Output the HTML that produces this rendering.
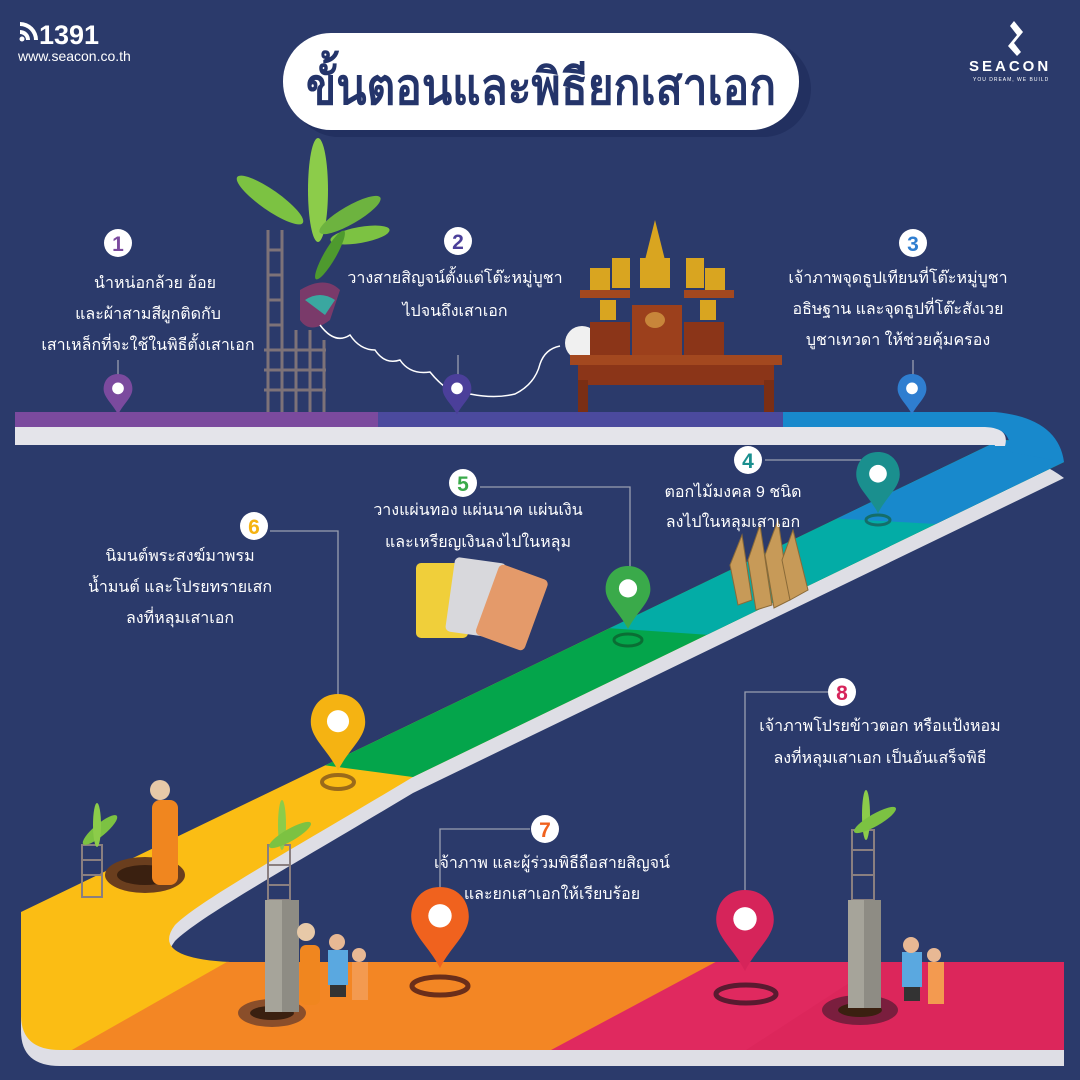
<!DOCTYPE html>
<html><head><meta charset="utf-8"><style>
html,body{margin:0;padding:0;background:#2b3a6b;}
svg{display:block}
text{font-family:"Liberation Sans","DejaVu Sans","Noto Sans CJK SC",sans-serif;}
.t{fill:#fff;font-size:16px;text-anchor:middle}
.n{font-size:21px;font-weight:bold;text-anchor:middle}
</style></head><body>
<svg width="1080" height="1080" viewBox="0 0 1080 1080" xmlns="http://www.w3.org/2000/svg">
<defs>
<path id="pin" d="M0,0 C-20,0 -32,15 -32,33 C-32,52 -12,66 0,90 C12,66 32,52 32,33 C32,15 20,0 0,0Z"/>
<clipPath id="road"><path d="M1064,462 L413,777 C300,845 200,900 175,925 Q150,958 230,962 H1064 V1050 H60 Q21,1050 21,1015 V912 L1000,440 Q1035,440 1064,462Z"/></clipPath>
</defs>
<rect width="1080" height="1080" fill="#2b3a6b"/>

<!-- header -->
<g fill="#fff">
<path d="M20,22 a18,18 0 0 1 18,18 h-4 a14,14 0 0 0 -14,-14z M20,30 a10,10 0 0 1 10,10 h-4 a6,6 0 0 0 -6,-6z"/>
<circle cx="22" cy="39" r="2.5"/>
<text x="39" y="44" font-size="27" font-weight="bold">1391</text>
<text x="18" y="61" font-size="14">www.seacon.co.th</text>
<path d="M1008,46 l9,-11 -7,-9 4,-5 9,11 -9,11 7,9 -4,4z"/>
<text x="969" y="71" font-size="15" font-weight="bold" letter-spacing="3">SEACON</text>
<text x="973" y="81" font-size="5" letter-spacing="1">YOU DREAM, WE BUILD</text>
</g>

<!-- title -->
<rect x="291" y="41" width="520" height="96" rx="48" fill="#223060"/>
<rect x="283" y="33" width="516" height="97" rx="48" fill="#fff"/>
<text x="541" y="104" font-size="50" font-weight="bold" fill="#24346a" text-anchor="middle" textLength="470" lengthAdjust="spacingAndGlyphs">ขั้นตอนและพิธียกเสาเอก</text>

<!-- diagonal + bottom road side -->
<g transform="translate(0,16)"><path d="M1064,462 L413,777 C300,845 200,900 175,925 Q150,958 230,962 H1064 V1050 H60 Q21,1050 21,1015 V912 L1000,440 Q1035,440 1064,462Z" fill="#dedee5"/></g>
<g clip-path="url(#road)">
<rect width="1080" height="1080" fill="#fbbd14"/>
<polygon points="0,0 1080,0 1080,866 0,722" fill="#04a54b"/>
<polygon points="0,0 1080,0 1080,660 0,587" fill="#03aca6"/>
<polygon points="0,0 1080,0 1080,532 0,472" fill="#1889cc"/>
<polygon points="248,950 1080,950 1080,1080 19,1080" fill="#f38624"/>
<polygon points="738,950 1080,950 1080,1080 495,1080" fill="#e0295f"/>
<polygon points="900,950 1080,950 1080,1080 700,1080" fill="#d82457" opacity="0.5"/>
</g>

<!-- top road -->
<rect x="15" y="426" width="985" height="19" fill="#e4e4ea"/>
<path d="M985,426 Q1010,428 1005,446 L995,446 L990,426Z" fill="#e4e4ea"/>
<rect x="15" y="412" width="365" height="15" fill="#7b4a9e"/>
<rect x="378" y="412" width="406" height="15" fill="#4b4a9e"/>
<path d="M783,412 H995 Q1058,418 1064,462 L1010,452 Q1012,428 985,427 H783Z" fill="#1889cc"/>

<!-- banana tree + trellis top -->
<g stroke="#7d7278" stroke-width="3" fill="none">
<line x1="268" y1="230" x2="268" y2="412"/><line x1="282" y1="230" x2="282" y2="412"/><line x1="296" y1="330" x2="296" y2="412"/><line x1="310" y1="330" x2="310" y2="412"/><line x1="324" y1="340" x2="324" y2="412"/>
<line x1="268" y1="250" x2="282" y2="250"/><line x1="268" y1="275" x2="282" y2="275"/><line x1="268" y1="300" x2="282" y2="300"/><line x1="268" y1="325" x2="282" y2="325"/>
<line x1="264" y1="350" x2="326" y2="350"/><line x1="264" y1="370" x2="326" y2="370"/><line x1="264" y1="390" x2="326" y2="390"/>
</g>
<g fill="#7cc242">
<ellipse cx="318" cy="190" rx="10" ry="52" fill="#8ccc4a"/>
<ellipse cx="270" cy="200" rx="40" ry="10" transform="rotate(35 270 200)"/>
<ellipse cx="350" cy="215" rx="35" ry="9" transform="rotate(-30 350 215)" fill="#6db33f"/>
<ellipse cx="360" cy="235" rx="30" ry="8" transform="rotate(-10 360 235)"/>
<ellipse cx="330" cy="255" rx="28" ry="6" transform="rotate(-60 330 255)" fill="#4e9a2e"/>
</g>
<path d="M300,290 Q325,275 340,290 L330,320 Q310,335 300,320Z" fill="#7a3a6a"/>
<path d="M305,300 Q320,290 335,300 L325,315Z" fill="#3aa7a0"/>
<path d="M320,325 q15,20 30,10 q10,15 25,15 q10,15 25,10 q10,15 30,12 q20,25 40,22 q25,5 45,0 q20,-10 25,-30 q5,-15 20,-18" stroke="#fff" stroke-width="1.5" fill="none"/>
<circle cx="582" cy="343" r="17" fill="#f0f0f0"/>

<!-- altar -->
<g>
<rect x="570" y="355" width="212" height="10" fill="#a3481f"/>
<rect x="578" y="365" width="196" height="20" fill="#8b3518"/>
<rect x="578" y="380" width="10" height="32" fill="#7a2e14"/><rect x="764" y="380" width="10" height="32" fill="#7a2e14"/>
<rect x="590" y="322" width="40" height="33" fill="#8b3518"/><rect x="632" y="305" width="50" height="50" fill="#9c401c"/><rect x="684" y="322" width="40" height="33" fill="#8b3518"/>
<rect x="580" y="290" width="50" height="8" fill="#a3481f"/><rect x="684" y="290" width="50" height="8" fill="#a3481f"/>
<polygon points="655,220 645,260 665,260" fill="#d9a520"/>
<rect x="640" y="258" width="30" height="30" fill="#d9a520"/>
<rect x="590" y="268" width="20" height="22" fill="#d9a520"/><rect x="612" y="258" width="18" height="30" fill="#d9a520"/>
<rect x="686" y="258" width="18" height="30" fill="#d9a520"/><rect x="705" y="268" width="20" height="22" fill="#d9a520"/>
<rect x="600" y="300" width="16" height="20" fill="#d9a520"/><rect x="700" y="300" width="16" height="20" fill="#d9a520"/>
<ellipse cx="655" cy="320" rx="10" ry="8" fill="#c8853a"/>
</g>

<!-- cards -->
<rect x="416" y="563" width="52" height="75" rx="5" fill="#f0cf3a"/>
<rect x="450" y="560" width="52" height="75" rx="5" fill="#d8d8dc" transform="rotate(8 476 597)"/>
<rect x="486" y="570" width="52" height="75" rx="5" fill="#e49a6a" transform="rotate(20 512 607)"/>
<!-- stakes -->
<g fill="#c79a58" stroke="#8a6a38" stroke-width="1">
<polygon points="730,565 742,535 752,600 738,605"/><polygon points="748,560 760,525 772,605 756,610"/>
<polygon points="765,555 778,520 790,600 774,608"/><polygon points="782,560 793,530 808,590 790,600"/>
</g>

<!-- lower decorations -->
<ellipse cx="145" cy="875" rx="40" ry="18" fill="#6a3e1e"/>
<ellipse cx="145" cy="875" rx="28" ry="10" fill="#3a2010"/>
<g stroke="#8a7f80" stroke-width="2" fill="none"><rect x="82" y="845" width="20" height="52"/><line x1="82" y1="860" x2="102" y2="860"/><line x1="82" y1="875" x2="102" y2="875"/></g>
<ellipse cx="100" cy="830" rx="22" ry="6" fill="#7cc242" transform="rotate(-40 100 830)"/>
<ellipse cx="97" cy="825" rx="4" ry="22" fill="#8ccc4a"/>
<rect x="152" y="800" width="26" height="85" rx="8" fill="#f0861f"/>
<circle cx="160" cy="790" r="10" fill="#e7c9a8"/>
<ellipse cx="272" cy="1013" rx="34" ry="14" fill="#8a4e2a"/>
<ellipse cx="272" cy="1013" rx="22" ry="7" fill="#3a2010"/>
<g stroke="#8a7f80" stroke-width="2" fill="none"><rect x="268" y="845" width="22" height="55"/><line x1="268" y1="865" x2="290" y2="865"/><line x1="268" y1="885" x2="290" y2="885"/></g>
<ellipse cx="282" cy="825" rx="4" ry="25" fill="#8ccc4a"/><ellipse cx="290" cy="835" rx="24" ry="6" fill="#7cc242" transform="rotate(-30 290 835)"/>
<rect x="265" y="900" width="34" height="112" fill="#a6a49a"/><rect x="282" y="900" width="17" height="112" fill="#8e8c84"/>
<rect x="300" y="945" width="20" height="60" rx="6" fill="#f0861f"/><circle cx="306" cy="932" r="9" fill="#e7c9a8"/>
<rect x="328" y="950" width="20" height="35" fill="#5aa8e0"/><rect x="330" y="985" width="16" height="12" fill="#333"/><circle cx="337" cy="942" r="8" fill="#e8b894"/>
<rect x="352" y="962" width="16" height="38" fill="#f39a50"/><circle cx="359" cy="955" r="7" fill="#e8b894"/>
<ellipse cx="860" cy="1010" rx="38" ry="15" fill="#7a1e3e"/>
<ellipse cx="860" cy="1010" rx="22" ry="7" fill="#3a2010"/>
<g stroke="#8a7f80" stroke-width="2" fill="none"><rect x="852" y="830" width="22" height="70"/><line x1="852" y1="850" x2="874" y2="850"/><line x1="852" y1="875" x2="874" y2="875"/></g>
<ellipse cx="866" cy="815" rx="4" ry="25" fill="#8ccc4a"/><ellipse cx="875" cy="820" rx="24" ry="6" fill="#7cc242" transform="rotate(-30 875 820)"/>
<rect x="848" y="900" width="33" height="108" fill="#a6a49a"/><rect x="864" y="900" width="17" height="108" fill="#8e8c84"/>
<rect x="902" y="952" width="20" height="35" fill="#5aa8e0"/><rect x="904" y="987" width="16" height="14" fill="#333"/><circle cx="911" cy="945" r="8" fill="#e8b894"/>
<rect x="928" y="962" width="16" height="42" fill="#f39a50"/><circle cx="934" cy="955" r="7" fill="#e8b894"/>

<!-- leader lines -->
<g stroke="#9a9fb0" stroke-width="1.3" fill="none">
<line x1="118" y1="360" x2="118" y2="375"/><line x1="458" y1="355" x2="458" y2="375"/><line x1="913" y1="360" x2="913" y2="375"/>
<polyline points="765,460 862,460 862,470"/>
<polyline points="480,487 630,487 630,570"/>
<polyline points="270,531 338,531 338,697"/>
<polyline points="530,829 440,829 440,890"/>
<polyline points="828,692 745,692 745,892"/>
</g>

<!-- pins -->
<g transform="translate(118,374) scale(0.45)"><use href="#pin" fill="#7b4a9e"/><circle cy="32" r="13" fill="#fff"/></g>
<g transform="translate(457,374) scale(0.45)"><use href="#pin" fill="#4b3f9a"/><circle cy="32" r="13" fill="#fff"/></g>
<g transform="translate(912,374) scale(0.45)"><use href="#pin" fill="#2f7ed0"/><circle cy="32" r="13" fill="#fff"/></g>
<ellipse cx="878" cy="520" rx="12" ry="5" fill="none" stroke="#146e6a" stroke-width="3"/>
<g transform="translate(878,452) scale(0.68)"><use href="#pin" fill="#1a8f8e"/><circle cy="32" r="13" fill="#fff"/></g>
<ellipse cx="628" cy="640" rx="14" ry="6" fill="none" stroke="#0a6e34" stroke-width="3"/>
<g transform="translate(628,566) scale(0.7)"><use href="#pin" fill="#3aaa4a"/><circle cy="32" r="13" fill="#fff"/></g>
<ellipse cx="338" cy="782" rx="16" ry="7" fill="none" stroke="#9a6a1a" stroke-width="4"/>
<g transform="translate(338,694) scale(0.85)"><use href="#pin" fill="#f5b312"/><circle cy="32" r="13" fill="#fff"/></g>
<ellipse cx="440" cy="986" rx="28" ry="9" fill="none" stroke="#6a2e1a" stroke-width="5"/>
<g transform="translate(440,887) scale(0.9)"><use href="#pin" fill="#f0621e"/><circle cy="32" r="13" fill="#fff"/></g>
<ellipse cx="746" cy="994" rx="30" ry="9" fill="none" stroke="#5a1a30" stroke-width="5"/>
<g transform="translate(745,890) scale(0.9)"><use href="#pin" fill="#d6245a"/><circle cy="32" r="13" fill="#fff"/></g>

<!-- number badges -->
<g fill="#fff">
<circle cx="118" cy="243" r="14"/><circle cx="458" cy="241" r="14"/><circle cx="913" cy="243" r="14"/>
<circle cx="748" cy="460" r="14"/><circle cx="463" cy="483" r="14"/><circle cx="254" cy="526" r="14"/>
<circle cx="545" cy="829" r="14"/><circle cx="842" cy="692" r="14"/>
</g>
<text class="n" x="118" y="251" fill="#7b4a9e">1</text>
<text class="n" x="458" y="249" fill="#4b3f9a">2</text>
<text class="n" x="913" y="251" fill="#2f7ed0">3</text>
<text class="n" x="748" y="468" fill="#1a8f8e">4</text>
<text class="n" x="463" y="491" fill="#3aaa4a">5</text>
<text class="n" x="254" y="534" fill="#f5b312">6</text>
<text class="n" x="545" y="837" fill="#f0621e">7</text>
<text class="n" x="842" y="700" fill="#d6245a">8</text>

<!-- labels -->
<text class="t" x="155" y="288">นำหน่อกล้วย อ้อย</text>
<text class="t" x="148" y="319">และผ้าสามสีผูกติดกับ</text>
<text class="t" x="148" y="350">เสาเหล็กที่จะใช้ในพิธีตั้งเสาเอก</text>
<text class="t" x="455" y="283">วางสายสิญจน์ตั้งแต่โต๊ะหมู่บูชา</text>
<text class="t" x="455" y="316">ไปจนถึงเสาเอก</text>
<text class="t" x="898" y="283">เจ้าภาพจุดธูปเทียนที่โต๊ะหมู่บูชา</text>
<text class="t" x="898" y="314">อธิษฐาน และจุดธูปที่โต๊ะสังเวย</text>
<text class="t" x="898" y="345">บูชาเทวดา ให้ช่วยคุ้มครอง</text>
<text class="t" x="733" y="497">ตอกไม้มงคล 9 ชนิด</text>
<text class="t" x="733" y="527">ลงไปในหลุมเสาเอก</text>
<text class="t" x="478" y="515">วางแผ่นทอง แผ่นนาค แผ่นเงิน</text>
<text class="t" x="478" y="547">และเหรียญเงินลงไปในหลุม</text>
<text class="t" x="180" y="561">นิมนต์พระสงฆ์มาพรม</text>
<text class="t" x="180" y="592">น้ำมนต์ และโปรยทรายเสก</text>
<text class="t" x="180" y="623">ลงที่หลุมเสาเอก</text>
<text class="t" x="552" y="868">เจ้าภาพ และผู้ร่วมพิธีถือสายสิญจน์</text>
<text class="t" x="552" y="899">และยกเสาเอกให้เรียบร้อย</text>
<text class="t" x="880" y="731">เจ้าภาพโปรยข้าวตอก หรือแป้งหอม</text>
<text class="t" x="880" y="763">ลงที่หลุมเสาเอก เป็นอันเสร็จพิธี</text>
</svg>
</body></html>
